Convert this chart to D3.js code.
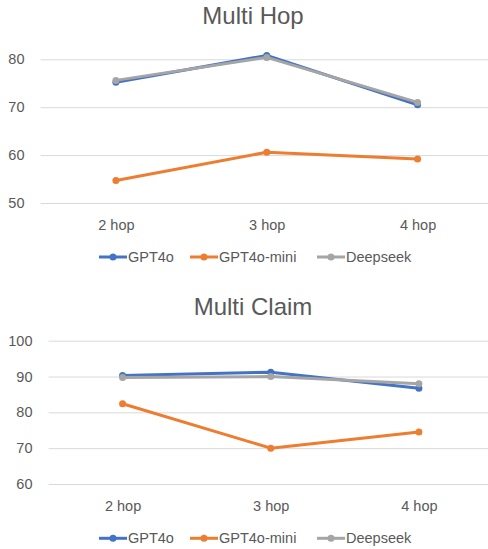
<!DOCTYPE html>
<html><head><meta charset="utf-8">
<script src="https://cdn.jsdelivr.net/npm/d3@7"></script>
<style>body{margin:0;background:#fff}svg{display:block}</style>
</head><body>
<svg id="c" width="488" height="549"></svg>
<script>
const categories = ["2 hop", "3 hop", "4 hop"];
const seriesNames = ["GPT4o", "GPT4o-mini", "Deepseek"];
const colors = ["#4472C4", "#ED7D31", "#A5A5A5"];

const hopTitle = "Multi Hop";
const hopGPT4o = [75.2, 80.8, 70.5];
const hopMini = [54.7, 60.6, 59.2];
const hopDeepseek = [75.6, 80.4, 71.0];
const hopTicks = [50, 60, 70, 80];

const claimTitle = "Multi Claim";
const claimGPT4o = [90.3, 91.2, 86.7];
const claimMini = [82.4, 70.0, 74.5];
const claimDeepseek = [89.7, 90.0, 88.0];
const claimTicks = [60, 70, 80, 90, 100];

const svg = d3.select("#c");
const FONT = "'Liberation Sans', Arial, sans-serif";
const TXT = "#595959";

function drawChart(cfg) {
  const g = svg.append("g");
  const x = d3.scalePoint().domain(categories).range([cfg.left, cfg.right]).padding(0.5);
  const y = d3.scaleLinear().domain(cfg.domain).range(cfg.yRange);

  g.append("text").attr("x", 253).attr("y", cfg.titleY).attr("text-anchor", "middle")
    .attr("font-family", FONT).attr("font-size", 24).attr("fill", TXT).text(cfg.title);

  const yAxis = d3.axisLeft(y).tickValues(cfg.ticks).tickSize(-(cfg.right - cfg.left)).tickPadding(16);
  const ya = g.append("g").attr("transform", `translate(${cfg.left},0)`).call(yAxis);
  ya.select(".domain").remove();
  ya.selectAll(".tick line").attr("stroke", "#D9D9D9").attr("stroke-width", 1);
  ya.selectAll(".tick text").attr("font-family", FONT).attr("font-size", 14.5).attr("fill", TXT);

  const xAxis = d3.axisBottom(x).tickSize(0).tickPadding(0);
  const xa = g.append("g").attr("transform", `translate(0,${cfg.xLabelY})`).call(xAxis);
  xa.select(".domain").remove();
  xa.selectAll(".tick text").attr("font-family", FONT).attr("font-size", 14.5).attr("fill", TXT)
    .attr("dy", null).attr("y", 0);

  const line = d3.line().x((d, i) => x(categories[i])).y(d => y(d));
  cfg.series.forEach((vals, si) => {
    g.append("path").datum(vals).attr("d", line).attr("fill", "none")
      .attr("stroke", colors[si]).attr("stroke-width", 3).attr("stroke-linejoin", "round");
    g.selectAll(null).data(vals).enter().append("circle")
      .attr("cx", (d, i) => x(categories[i])).attr("cy", d => y(d)).attr("r", 3.5)
      .attr("fill", colors[si]);
  });

  // legend
  const legX = [99, 190, 317];
  const lg = g.append("g");
  seriesNames.forEach((n, i) => {
    const lx = legX[i];
    lg.append("line").attr("x1", lx).attr("x2", lx + 28).attr("y1", cfg.legendY).attr("y2", cfg.legendY)
      .attr("stroke", colors[i]).attr("stroke-width", 3);
    lg.append("circle").attr("cx", lx + 14).attr("cy", cfg.legendY).attr("r", 3.5).attr("fill", colors[i]);
    lg.append("text").attr("x", lx + 29).attr("y", cfg.legendY + 5).attr("font-family", FONT)
      .attr("font-size", 14.5).attr("fill", TXT).text(n);
  });
}

drawChart({
  title: hopTitle, titleY: 24, left: 40.5, right: 493, domain: [50, 80], yRange: [203, 59.3],
  ticks: hopTicks, xLabelY: 230, legendY: 257, series: [hopGPT4o, hopMini, hopDeepseek]
});
drawChart({
  title: claimTitle, titleY: 315, left: 48.5, right: 493, domain: [60, 100], yRange: [484, 340.7],
  ticks: claimTicks, xLabelY: 511, legendY: 538.3, series: [claimGPT4o, claimMini, claimDeepseek]
});
</script>
</body></html>
